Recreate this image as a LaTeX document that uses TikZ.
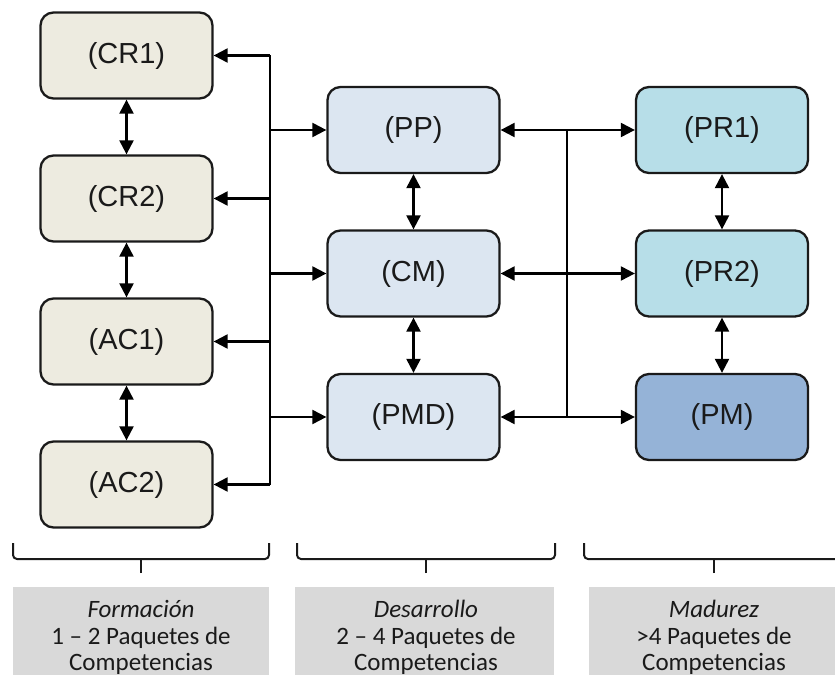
\documentclass[tikz,border=0pt]{standalone}
\usepackage{fontspec}
\newfontfamily\labelfont{Liberation Sans}
\newfontfamily\capfont{Carlito}
\usetikzlibrary{arrows.meta,calc}

\definecolor{beige}{HTML}{EDEBE0}
\definecolor{paleblue}{HTML}{DCE6F1}
\definecolor{aqua}{HTML}{B7DEE8}
\definecolor{steel}{HTML}{95B3D7}
\definecolor{panel}{HTML}{D9D9D9}
\definecolor{ink}{HTML}{1A1A1A}

\tikzset{
  stage/.style={draw=ink, line width=2.3pt, rounded corners=13pt,
    minimum width=172pt, minimum height=86pt, inner sep=0pt,
    text=ink, font=\labelfont\fontsize{29}{33}\selectfont},
  formbox/.style={stage, fill=beige},
  devbox/.style={stage, fill=paleblue},
  matbox/.style={stage, fill=aqua},
  topbox/.style={stage, fill=steel},
  link/.style={line width=2.2pt, draw=black},
  arr/.style={link, -{Triangle[length=14pt,width=14pt]}},
  darr/.style={link, {Triangle[length=14pt,width=14pt]}-{Triangle[length=14pt,width=14pt]}},
  brace/.style={line width=2pt, draw=ink, rounded corners=4pt},
  panelbox/.style={fill=panel, draw=none, inner sep=0pt},
  captxt/.style={anchor=base, text=ink, font=\capfont\fontsize{25}{28}\selectfont, inner sep=0pt},
}

\begin{document}
\begin{tikzpicture}[x=1pt, y=-1pt]
  \useasboundingbox (0,0) rectangle (835,684);

  % Formación column
  \node[formbox] (CR1) at (126.5, 55.5) {(CR1)};
  \node[formbox] (CR2) at (126.5, 198.5) {(CR2)};
  \node[formbox] (AC1) at (126.5, 341.5) {(AC1)};
  \node[formbox] (AC2) at (126.5, 484.5) {(AC2)};

  % Desarrollo column
  \node[devbox] (PP)  at (413.5, 130) {(PP)};
  \node[devbox] (CM)  at (413.5, 273.5) {(CM)};
  \node[devbox] (PMD) at (413.5, 417) {(PMD)};

  % Madurez column
  \node[matbox] (PR1) at (722, 130) {(PR1)};
  \node[matbox] (PR2) at (722, 273.5) {(PR2)};
  \node[topbox] (PM)  at (722, 417) {(PM)};

  % vertical links inside each column
  \draw[darr] (CR1.south) -- (CR2.north);
  \draw[darr] (CR2.south) -- (AC1.north);
  \draw[darr] (AC1.south) -- (AC2.north);
  \draw[darr] (PP.south) -- (CM.north);
  \draw[darr] (CM.south) -- (PMD.north);
  \draw[darr] (PR1.south) -- (PR2.north);
  \draw[darr] (PR2.south) -- (PM.north);

  % left bus
  \coordinate (busL) at (270, 0);
  \draw[link] (busL |- CR1.east) -- (busL |- AC2.east);
  \foreach \n in {CR1, CR2, AC1, AC2}
    \draw[arr] (busL |- \n.east) -- (\n.east);
  \foreach \n in {PP, CM, PMD}
    \draw[arr] (busL |- \n.west) -- (\n.west);

  % right bus
  \coordinate (busR) at (567, 0);
  \draw[link] (busR |- PP.east) -- (busR |- PMD.east);
  \draw[darr] (PP.east) -- (PR1.west);
  \draw[darr] (CM.east) -- (PR2.west);
  \draw[darr] (PMD.east) -- (PM.west);

  % braces
  \draw[brace] (13,543) -- (13,559) -- (269,559) -- (269,543);
  \draw[brace] (141,573) -- (141,559);
  \draw[brace] (297,543) -- (297,559) -- (555,559) -- (555,543);
  \draw[brace] (426,573) -- (426,559);
  \draw[brace] (584,543) -- (584,559) -- (845,559);
  \draw[brace] (714,573) -- (714,559);

  % stage panels
  \node[panelbox, minimum width=256pt, minimum height=88pt] (P1) at (141, 631) {};
  \node[panelbox, minimum width=259pt, minimum height=88pt] (P2) at (424.5, 631) {};
  \node[panelbox, minimum width=260pt, minimum height=88pt] (P3) at (719, 631) {};

  \node[captxt] (T1a) at (141, 617) {\itshape Formación};
  \node[captxt] (T1b) at (141, 644) {1 – 2 Paquetes de};
  \node[captxt] (T1c) at (141, 670) {Competencias};

  \node[captxt] (T2a) at (426, 617) {\itshape Desarrollo};
  \node[captxt] (T2b) at (426, 644) {2 – 4 Paquetes de};
  \node[captxt] (T2c) at (426, 670) {Competencias};

  \node[captxt] (T3a) at (714, 617) {\itshape Madurez};
  \node[captxt] (T3b) at (714, 644) {>4 Paquetes de};
  \node[captxt] (T3c) at (714, 670) {Competencias};
\end{tikzpicture}
\end{document}
